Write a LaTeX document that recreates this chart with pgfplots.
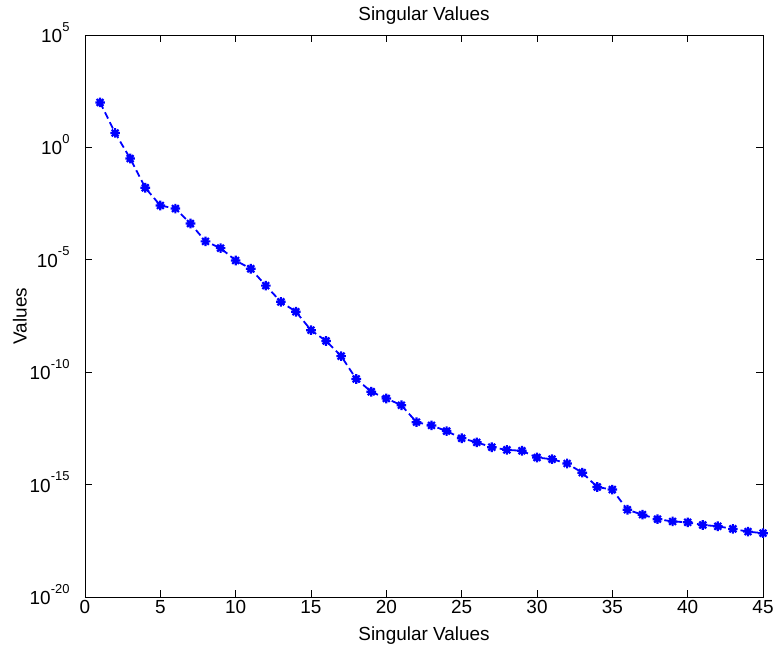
\documentclass[border=0pt]{standalone}
\usepackage{fontspec}
\setmainfont{Liberation Sans}
\usepackage{pgfplots}
\pgfplotsset{compat=1.18}
\usetikzlibrary{calc}

% MATLAB-style '*' marker: plus and cross together
\pgfdeclareplotmark{mstar}{%
  \pgfpathmoveto{\pgfqpoint{-\pgfplotmarksize}{0pt}}%
  \pgfpathlineto{\pgfqpoint{\pgfplotmarksize}{0pt}}%
  \pgfpathmoveto{\pgfqpoint{0pt}{-\pgfplotmarksize}}%
  \pgfpathlineto{\pgfqpoint{0pt}{\pgfplotmarksize}}%
  \pgfpathmoveto{\pgfqpoint{-0.707\pgfplotmarksize}{-0.707\pgfplotmarksize}}%
  \pgfpathlineto{\pgfqpoint{0.707\pgfplotmarksize}{0.707\pgfplotmarksize}}%
  \pgfpathmoveto{\pgfqpoint{-0.707\pgfplotmarksize}{0.707\pgfplotmarksize}}%
  \pgfpathlineto{\pgfqpoint{0.707\pgfplotmarksize}{-0.707\pgfplotmarksize}}%
  \pgfusepathqstroke}

\newcommand{\ex}[1]{10\raisebox{11.5bp}{\fontsize{13}{13}\selectfont #1}}

\pgfplotstableread{
k  s
1  1.0e2
2  4.4e0
3  3.2e-1
4  1.6e-2
5  2.6e-3
6  1.9e-3
7  4.1e-4
8  6.6e-5
9  3.3e-5
10 9.3e-6
11 4.0e-6
12 7.1e-7
13 1.35e-7
14 4.9e-8
15 7.4e-9
16 2.45e-9
17 5.2e-10
18 5.0e-11
19 1.35e-11
20 6.8e-12
21 3.4e-12
22 6.0e-13
23 4.3e-13
24 2.4e-13
25 1.15e-13
26 7.6e-14
27 4.6e-14
28 3.5e-14
29 3.2e-14
30 1.6e-14
31 1.35e-14
32 8.7e-15
33 3.4e-15
34 7.8e-16
35 6.0e-16
36 7.6e-17
37 4.6e-17
38 2.9e-17
39 2.3e-17
40 2.1e-17
41 1.6e-17
42 1.4e-17
43 1.07e-17
44 8.1e-18
45 6.9e-18
}\svtable

\begin{document}
\begin{tikzpicture}
\begin{axis}[
    scale only axis,
    width=678bp,
    height=562bp,
    ymode=log,
    xmin=0, xmax=45,
    ymin=1e-20, ymax=1e5,
    xtick={0,5,...,45},
    ytick={1e-20,1e-15,1e-10,1e-5,1,1e5},
    yticklabels={\ex{-20},\ex{-15},\ex{-10},\ex{-5},\ex{0},\ex{5}},
    yminorticks=false,
    tick align=inside,
    xtick pos=both,
    ytick pos=both,
    major tick length=7bp,
    tick style={black, line width=0.8bp},
    axis line style={black, line width=0.8bp},
    every tick label/.append style={font=\fontsize{19}{22}\selectfont},
    /pgf/number format/assume math mode=true,
    yticklabel style={anchor=base east, yshift=-7.5bp, xshift=-12bp},
    title={Singular Values},
    title style={font=\fontsize{19}{22}\selectfont, at={(axis description cs:0.5,1)}, anchor=base, yshift=9bp},
    xlabel={Singular Values},
    xlabel style={font=\fontsize{19}{22}\selectfont, at={(axis description cs:0.5,0)}, anchor=base, yshift=-43bp},
    ylabel={Values},
    ylabel style={font=\fontsize{19}{22}\selectfont, at={(axis description cs:-0.086,0.5)}, anchor=base},
]
\addplot[blue, line width=1.8bp, dash pattern=on 7bp off 4bp,
    mark=mstar, mark size=4.8bp, mark options={solid, line width=2.2bp}]
    table[x=k, y=s] {\svtable};
\end{axis}
\pgfresetboundingbox
\path ($(current axis.south west)+(-85bp,-50bp)$) rectangle ($(current axis.north east)+(12bp,35bp)$);
\end{tikzpicture}
\end{document}
